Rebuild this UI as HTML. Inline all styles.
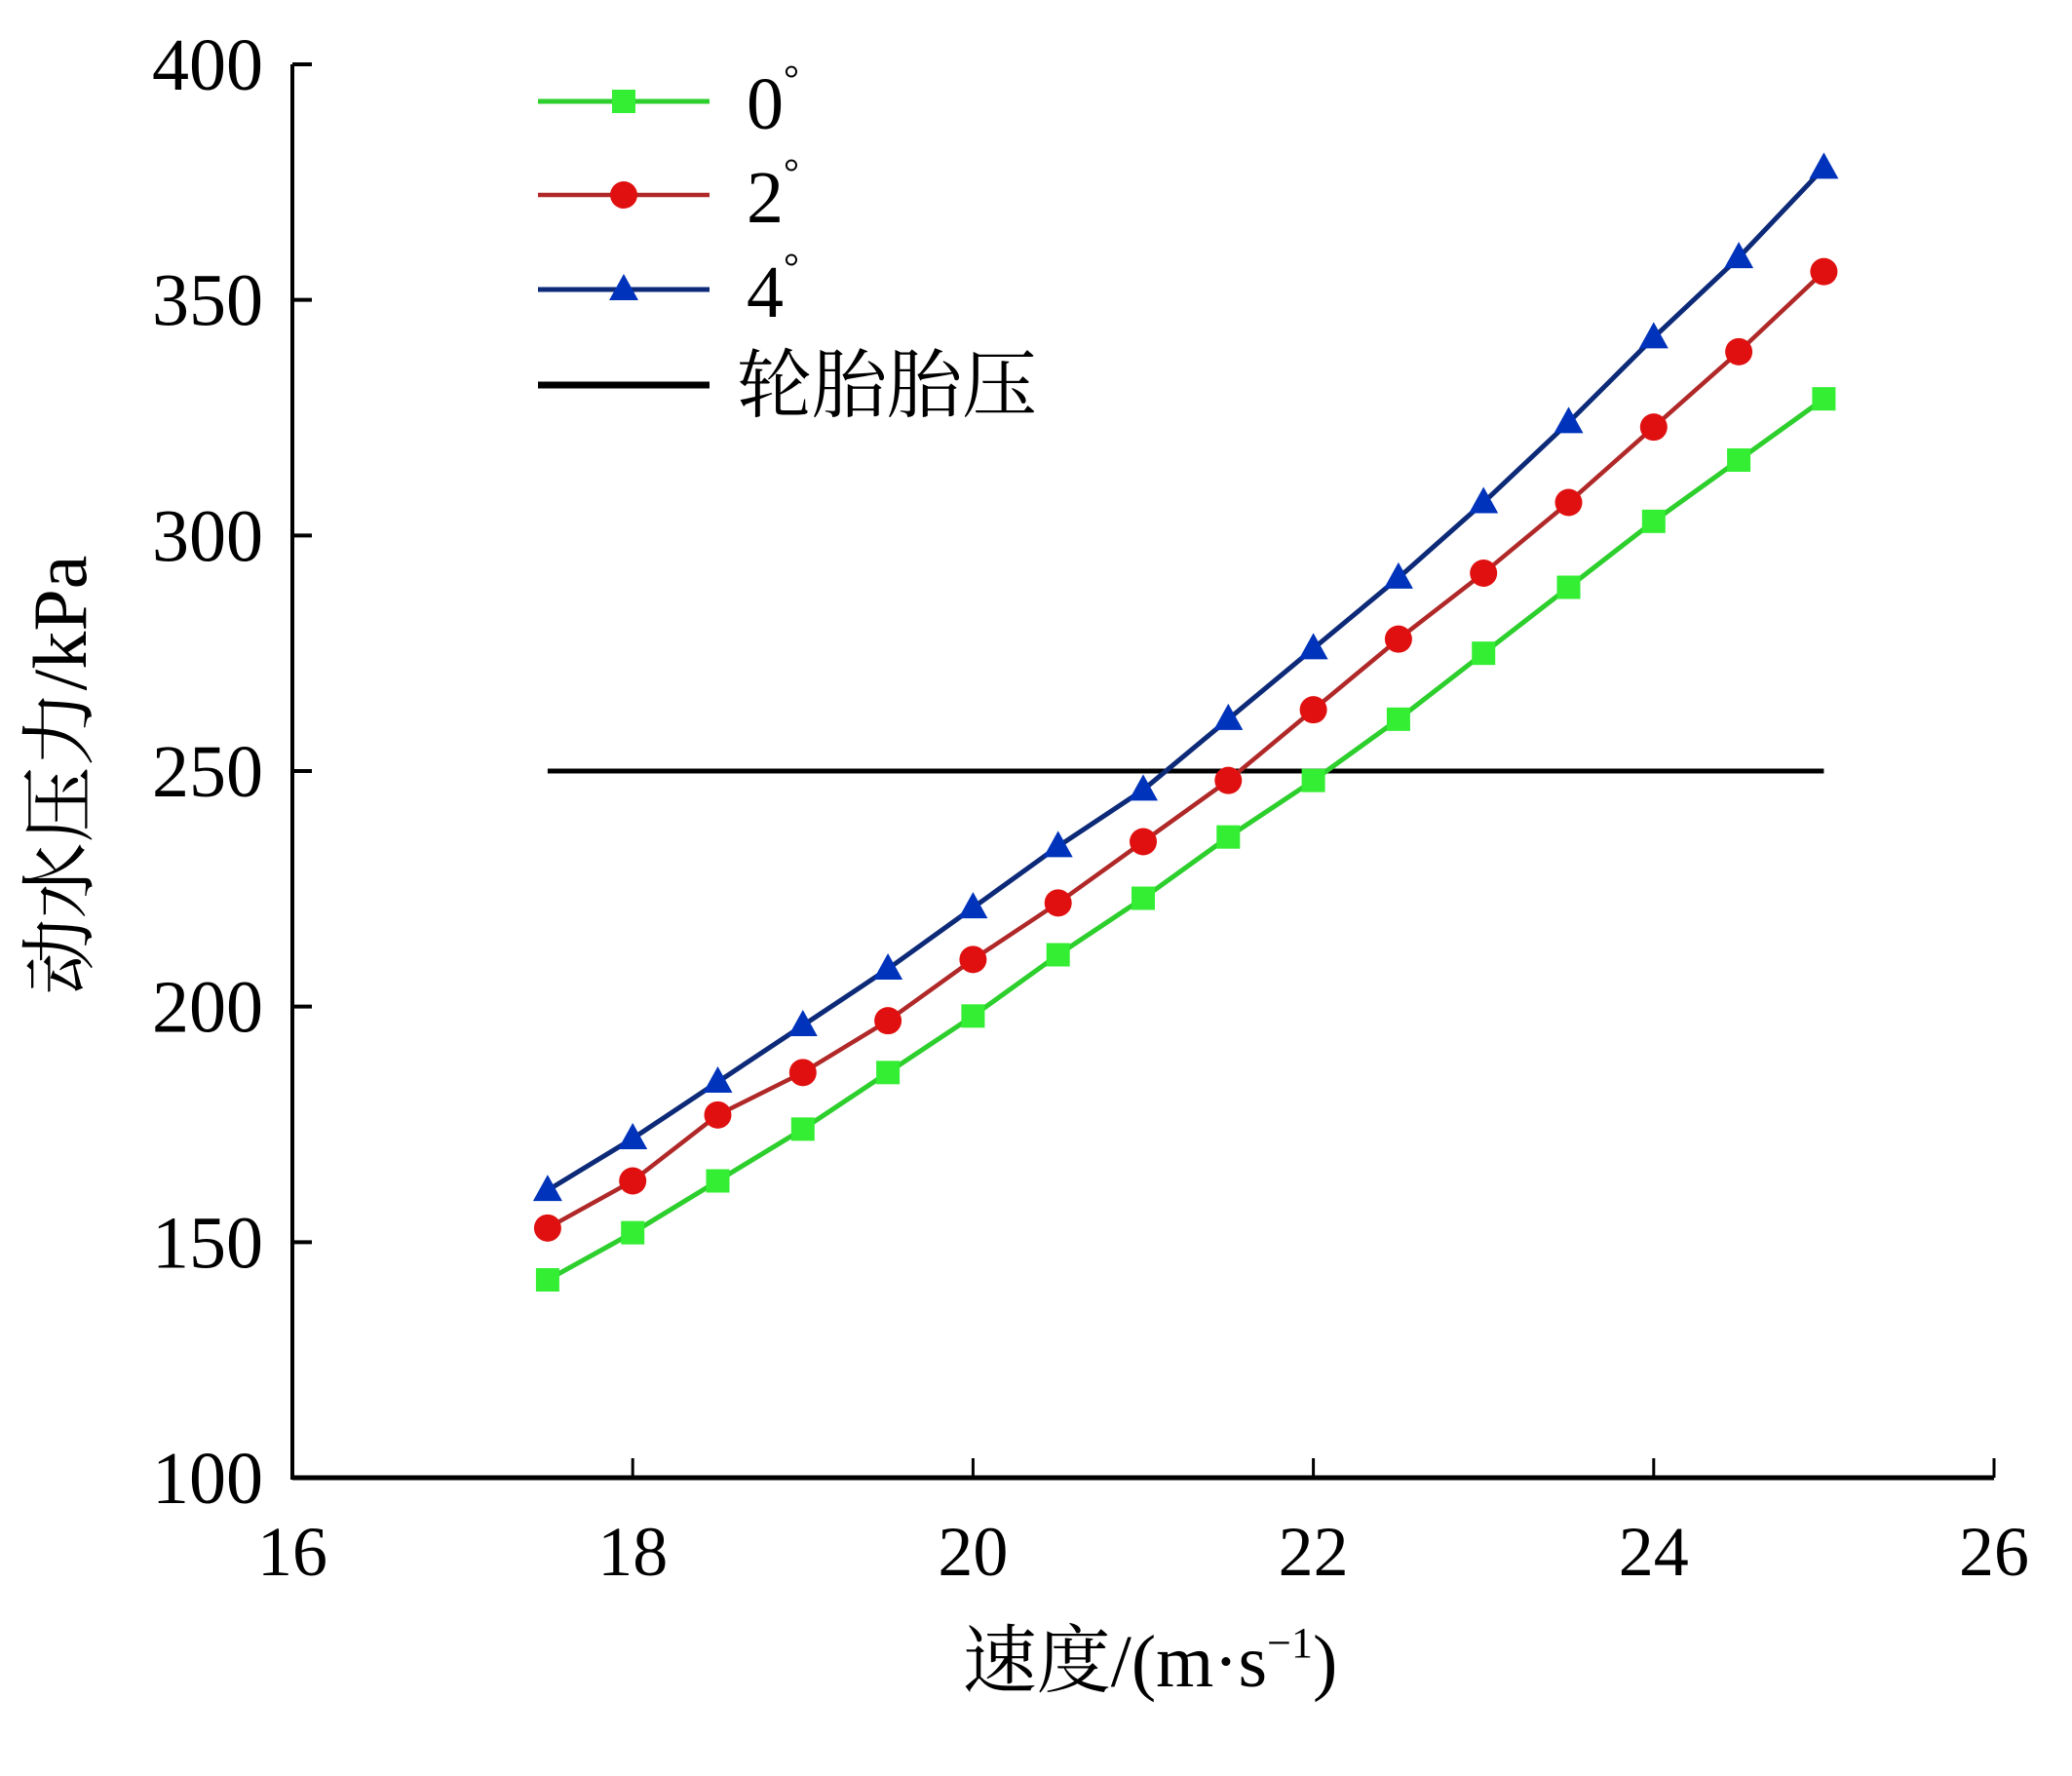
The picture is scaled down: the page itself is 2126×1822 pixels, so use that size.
<!DOCTYPE html>
<html><head><meta charset="utf-8"><style>
html,body{margin:0;padding:0;background:#fff;}
svg{display:block;}
text{font-family:"Liberation Serif","Noto Serif CJK SC",serif;fill:#000;}
</style></head><body>
<svg id="chart" width="2126" height="1822" viewBox="0 0 2126 1822" xmlns="http://www.w3.org/2000/svg">
<g id="axes"></g>
<g id="series"></g>
<g id="legend"></g>
</svg>
<script>
const speeds = [17.5,18,18.5,19,19.5,20,20.5,21,21.5,22,22.5,23,23.5,24,24.5,25];
const angle0 = [142,152,163,174,186,198,211,223,236,248,261,275,289,303,316,329];
const angle2 = [153,163,177,186,197,210,222,235,248,263,278,292,307,323,339,356];
const angle4 = [161,172,184,196,208,221,234,246,261,276,291,307,324,342,359,378];
const tirePressure = 250;
const tireRange = [17.5,25];
const xTicks = [16,18,20,22,24,26];
const yTicks = [100,150,200,250,300,350,400];

const X0=300, X1=2046, Y0=1516, Y1=66;
function sx(v){return X0+(v-16)/(26-16)*(X1-X0);}
function sy(v){return Y0-(v-100)/(400-100)*(Y0-Y1);}
const NS="http://www.w3.org/2000/svg";
function mk(tag,attrs,parent){const e=document.createElementNS(NS,tag);for(const k in attrs)e.setAttribute(k,attrs[k]);parent.appendChild(e);return e;}
const axes=document.getElementById('axes'), series=document.getElementById('series'), legend=document.getElementById('legend');

let e=mk('line',{x1:X0,y1:Y0,x2:X1,y2:Y0,stroke:'#000','stroke-width':5},axes);


e=mk('line',{x1:X0,y1:Y0+2,x2:X0,y2:Y1,stroke:'#000','stroke-width':4},axes);


xTicks.forEach(t=>{
  const x=sx(t);
  let l=mk('line',{x1:x,y1:Y0,x2:x,y2:Y0-20,stroke:'#000','stroke-width':3},axes);
  
  
  let tx=mk('text',{x:x,y:Y0+100,'text-anchor':'middle','font-size':72},axes);
  tx.textContent=t;
  
  
});
yTicks.forEach(t=>{
  const y=sy(t);
  let l=mk('line',{x1:X0,y1:y,x2:X0+20,y2:y,stroke:'#000','stroke-width':4},axes);
  
  
  let tx=mk('text',{x:270,y:y+26,'text-anchor':'end','font-size':76},axes);
  tx.textContent=t;
  
  
});
let yt=mk('text',{x:0,y:0,'text-anchor':'middle','font-size':78,transform:'translate(88,795) rotate(-90)'},axes);
yt.textContent='动水压力/kPa';


let xt=mk('text',{x:1180,y:1730,'text-anchor':'middle','font-size':76},axes);
xt.innerHTML='速度/(m·s<tspan dy="-30" font-size="44">−1</tspan><tspan dy="30">)</tspan>';



let tl=mk('line',{x1:sx(tireRange[0]),y1:sy(tirePressure),x2:sx(tireRange[1]),y2:sy(tirePressure),stroke:'#000','stroke-width':5},series);



function marker(shape,x,y,fill,parent){
  let m;
  if(shape==='square') m=mk('rect',{x:x-12,y:y-12,width:24,height:24,fill:fill},parent);
  else if(shape==='circle') m=mk('circle',{cx:x,cy:y,r:14,fill:fill},parent);
  else m=mk('polygon',{points:`${x},${y-16} ${x+15},${y+11} ${x-15},${y+11}`,fill:fill},parent);
  return m;
}
const defs=[
 {name:'0',vals:angle0,line:'#2ccf2c',fill:'#33ee33',shape:'square',w:5},
 {name:'2',vals:angle2,line:'#b02828',fill:'#e01010',shape:'circle',w:4.5},
 {name:'4',vals:angle4,line:'#0d2a78',fill:'#0033bb',shape:'triangle',w:5}
];
defs.forEach((d,i)=>{
  const g=mk('g',{},series);
  
  
  const pts=speeds.map((s,j)=>sx(s)+','+sy(d.vals[j])).join(' ');
  let pl=mk('polyline',{points:pts,fill:'none',stroke:d.line,'stroke-width':d.w},g);
  
  
  speeds.forEach((s,j)=>{
    const m=marker(d.shape,sx(s),sy(d.vals[j]),d.fill,g);
    
    
  });
  const ly=[104,200,297][i];
  const lg=mk('g',{},legend);
  
  
  mk('line',{x1:552,y1:ly,x2:728,y2:ly,stroke:d.line,'stroke-width':d.w},lg);
  marker(d.shape,640,ly,d.fill,lg);
  const t=mk('text',{x:766,y:ly+28,'font-size':76},lg);
  t.innerHTML=d.name+'<tspan dy="-38" font-size="40">°</tspan>';
});
const lg=mk('g',{},legend);


mk('line',{x1:552,y1:395,x2:728,y2:395,stroke:'#000','stroke-width':7},lg);
const lt=mk('text',{x:756,y:422,'font-size':77},lg);
lt.textContent='轮胎胎压';
</script>
</body></html>
